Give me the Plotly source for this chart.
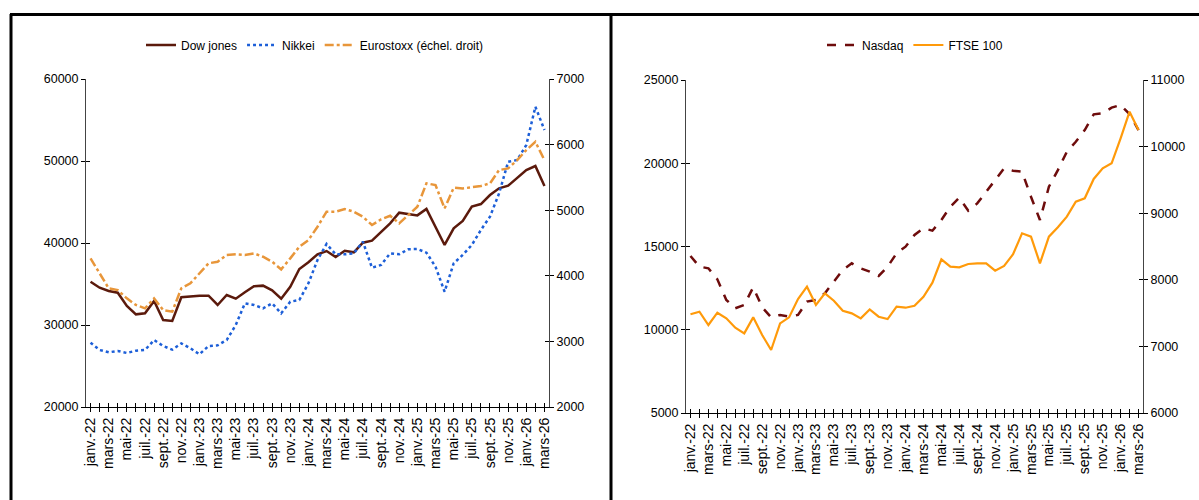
import plotly.graph_objects as go

months = ["janv.", "févr.", "mars", "avr.", "mai", "juin", "juil.", "août", "sept.", "oct.", "nov.", "déc."]
categories = [f"{m}-{y}" for y in ["22", "23", "24", "25"] for m in months] + ["janv.-26", "févr.-26", "mars-26"]
tick_labels = [c if i % 2 == 0 else "" for i, c in enumerate(categories)]

dow_jones = [35280, 34550, 34150, 33940, 32320, 31300, 31420, 32930, 30600, 30490,
             33380, 33500, 33580, 33580, 32440, 33660, 33210, 33990, 34720, 34800,
             34230, 33210, 34670, 36830, 37650, 38620, 39020, 38290, 39060, 38860,
             40040, 40280, 41380, 42400, 43700, 43570, 43370, 44150, 41990, 39760,
             41790, 42680, 44430, 44750, 45850, 46670, 46990, 47890, 48900, 49390, 46950]
nikkei = [27840, 26950, 26670, 26830, 26590, 26870, 26950, 28170, 27440, 26990,
          27760, 27160, 26430, 27440, 27520, 28170, 30000, 32640, 32440, 32030,
          32640, 31420, 32840, 33050, 35080, 37930, 39880, 38620, 38620, 38740,
          40160, 36990, 37320, 38740, 38620, 39230, 39270, 38820, 37110, 34060,
          37520, 38540, 39760, 41590, 43210, 46050, 49910, 50120, 51950, 56620, 53780]
eurostoxx = [4266, 4037, 3809, 3783, 3656, 3555, 3504, 3656, 3478, 3453,
             3809, 3885, 4037, 4190, 4215, 4317, 4327, 4317, 4342, 4291,
             4215, 4098, 4266, 4443, 4545, 4748, 4977, 4977, 5018, 4977,
             4900, 4774, 4860, 4915, 4800, 4926, 5053, 5409, 5383, 5028,
             5342, 5332, 5348, 5368, 5409, 5612, 5637, 5764, 5917, 6043, 5764]
nasdaq = [14430, 13790, 13690, 13030, 11790, 11290, 11490, 12550, 11350, 10750,
          10890, 10790, 10890, 11690, 11790, 12190, 12890, 13590, 13990, 13690,
          13490, 13230, 13790, 14590, 14990, 15690, 16090, 15950, 16590, 17390,
          17930, 17150, 17590, 18290, 18990, 19690, 19550, 19490, 17990, 16590,
          18590, 19590, 20690, 21290, 21990, 22940, 23000, 23340, 23500, 22950, 21990]
ftse100 = [7482, 7521, 7321, 7506, 7421, 7281, 7196, 7436, 7171, 6946,
           7346, 7436, 7712, 7897, 7621, 7796, 7686, 7536, 7496, 7421,
           7556, 7446, 7411, 7596, 7581, 7611, 7746, 7957, 8308, 8197,
           8187, 8237, 8247, 8247, 8137, 8207, 8383, 8698, 8648, 8247,
           8648, 8788, 8948, 9173, 9224, 9514, 9674, 9749, 10125, 10524, 10249]

left_ticks = [20000, 30000, 40000, 50000, 60000]
left_right_ticks = [2000, 3000, 4000, 5000, 6000, 7000]
right_ticks = [5000, 10000, 15000, 20000, 25000]
right_right_ticks = [6000, 7000, 8000, 9000, 10000, 11000]

idx = list(range(len(categories)))
FONT = "Arial, Liberation Sans, sans-serif"

fig = go.Figure()
fig.add_trace(go.Scatter(x=idx, y=dow_jones, name="Dow jones", mode="lines",
                         line=dict(color="#5b1a0c", width=2.5), xaxis="x", yaxis="y", legend="legend"))
fig.add_trace(go.Scatter(x=idx, y=nikkei, name="Nikkei", mode="lines",
                         line=dict(color="#1d5fd8", width=2.5, dash="dot"), xaxis="x", yaxis="y", legend="legend"))
fig.add_trace(go.Scatter(x=idx, y=eurostoxx, name="Eurostoxx (échel. droit)", mode="lines",
                         line=dict(color="#e8963a", width=2.5, dash="dashdot"), xaxis="x", yaxis="y2", legend="legend"))
fig.add_trace(go.Scatter(x=idx, y=nasdaq, name="Nasdaq", mode="lines",
                         line=dict(color="#6e0c0c", width=2.5, dash="dash"), xaxis="x2", yaxis="y3", legend="legend2"))
fig.add_trace(go.Scatter(x=idx, y=ftse100, name="FTSE 100", mode="lines",
                         line=dict(color="#ff9a0a", width=2.2), xaxis="x2", yaxis="y4", legend="legend2"))

W, H = 1199, 500
Lx = [86 / W, 549 / W]
Ly = [1 - 407 / H, 1 - 79 / H]
Rx = [686 / W, 1143 / W]
Ry = [1 - 413 / H, 1 - 80 / H]
XR = [-0.5, len(idx) - 0.5]

xfont = dict(family=FONT, size=14, color="#000")
yfont = dict(family=FONT, size=12.5, color="#000")
xcommon = dict(range=XR, tickmode="array", tickvals=idx, ticktext=tick_labels,
               tickangle=-90, ticks="outside", ticklen=4, tickcolor="#000", showgrid=False,
               zeroline=False, showline=True, linecolor="#000", linewidth=1, tickfont=xfont,
               automargin=False)
ycommon = dict(showgrid=False, zeroline=False, showline=True, linecolor="#444", linewidth=1,
               ticks="outside", ticklen=4, tickcolor="#000", tickfont=yfont, tickmode="array",
               tickformat="d", automargin=False)
inside = dict(ticks="inside", ticklen=4, tickcolor="#000", showticklabels=False, showline=False,
              showgrid=False, zeroline=False, tickmode="array")

fig.update_layout(
    width=W, height=H, autosize=False,
    margin=dict(l=0, r=0, t=0, b=0, pad=0, autoexpand=False),
    paper_bgcolor="white", plot_bgcolor="white",
    font=dict(family=FONT, size=12, color="#000"),
    xaxis=dict(domain=Lx, anchor="y", **xcommon),
    yaxis=dict(domain=Ly, anchor="x", range=[20000, 60000], tickvals=left_ticks, **ycommon),
    yaxis2=dict(overlaying="y", side="right", anchor="x", range=[2000, 7000], tickvals=left_right_ticks, **ycommon),
    xaxis2=dict(domain=Rx, anchor="y3", **xcommon),
    yaxis3=dict(domain=Ry, anchor="x2", range=[5000, 25000], tickvals=right_ticks, **ycommon),
    yaxis4=dict(overlaying="y3", side="right", anchor="x2", range=[6000, 11000], tickvals=right_right_ticks, **ycommon),
    # inside tick overlays to imitate crossing ticks
    xaxis3=dict(domain=Lx, anchor="y", overlaying="x", range=XR, tickvals=idx, **inside),
    xaxis4=dict(domain=Rx, anchor="y3", overlaying="x2", range=XR, tickvals=idx, **inside),
    yaxis5=dict(overlaying="y", anchor="x", side="left", range=[20000, 60000], tickvals=left_ticks, **inside),
    yaxis6=dict(overlaying="y", anchor="x", side="right", range=[2000, 7000], tickvals=left_right_ticks, **inside),
    yaxis7=dict(overlaying="y3", anchor="x2", side="left", range=[5000, 25000], tickvals=right_ticks, **inside),
    yaxis8=dict(overlaying="y3", anchor="x2", side="right", range=[6000, 11000], tickvals=right_right_ticks, **inside),
    legend=dict(orientation="h", x=315 / W, xanchor="center", y=1 - 45 / H, yanchor="middle",
                font=dict(family=FONT, size=12, color="#000"), bgcolor="rgba(0,0,0,0)", itemwidth=30),
    legend2=dict(orientation="h", x=915 / W, xanchor="center", y=1 - 45 / H, yanchor="middle",
                 font=dict(family=FONT, size=12, color="#000"), bgcolor="rgba(0,0,0,0)", itemwidth=30),
    showlegend=True,
)

# empty helper traces so the overlay tick axes render
for xa, ya in [("x3", "y"), ("x4", "y3"), ("x", "y5"), ("x", "y6"), ("x2", "y7"), ("x2", "y8")]:
    fig.add_trace(go.Scatter(x=[None], y=[None], xaxis=xa, yaxis=ya, showlegend=False, hoverinfo="skip"))

# panel frame lines
for x0, y0, x1, y1 in [(10, 14.5, W, 14.5), (11, 14, 11, H), (611, 14, 611, H)]:
    fig.add_shape(type="line", xref="paper", yref="paper", x0=x0 / W, x1=x1 / W,
                  y0=1 - y0 / H, y1=1 - y1 / H, line=dict(color="#000", width=3))

fig.write_html("out.html")
